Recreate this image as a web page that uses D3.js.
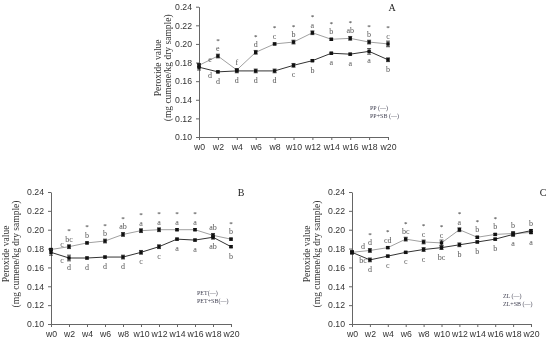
<!DOCTYPE html>
<html>
<head>
<meta charset="utf-8">
<script src="https://cdn.jsdelivr.net/npm/d3@7"></script>
<style>
  body { margin: 0; background: #fff; }
  svg { display: block; font-family: "Liberation Serif", "Times New Roman", serif; will-change: transform; }
  .tick text { fill: #333; }
  .domain, .tick line { stroke: #666; }
</style>
</head>
<body>
<script>
// weeks of storage and y ticks shared by every panel
var weeks = ['w0','w2','w4','w6','w8','w10','w12','w14','w16','w18','w20'];
var yTicks = [0.10, 0.12, 0.14, 0.16, 0.18, 0.20, 0.22, 0.24];

// panel A: PP
var aLight = [0.177, 0.187, 0.172, 0.191, 0.200, 0.202, 0.212, 0.205, 0.206, 0.202, 0.200];
var aDark  = [0.175, 0.170, 0.171, 0.171, 0.171, 0.177, 0.182, 0.190, 0.189, 0.192, 0.183];
var aLightErr = [0.002, 0.002, 0.001, 0.002, 0.001, 0.002, 0.002, 0.001, 0.002, 0.002, 0.003];
var aDarkErr  = [0.003, 0.001, 0.002, 0.002, 0.002, 0.002, 0.001, 0.001, 0.001, 0.003, 0.002];
var aTop = ['e','e','f','d','c','b','a','b','ab','b','c'];
var aBottom = ['d','d','d','d','d','c','b','a','a','a','b'];
var aStar = [0,1,0,1,1,1,1,1,1,1,1];
var aLegend = ['PP (\u2014)', 'PP+SB (\u2014)'];

// panel B: PET
var bLight = [0.179, 0.182, 0.186, 0.188, 0.195, 0.199, 0.200, 0.200, 0.200, 0.194, 0.190];
var bDark  = [0.176, 0.170, 0.170, 0.171, 0.171, 0.176, 0.182, 0.190, 0.189, 0.192, 0.182];
var bLightErr = [0.001, 0.002, 0.001, 0.002, 0.002, 0.002, 0.002, 0.001, 0.001, 0.002, 0.001];
var bDarkErr  = [0.003, 0.003, 0.001, 0.001, 0.002, 0.002, 0.002, 0.001, 0.001, 0.002, 0.001];
var bTop = ['c','bc','b','b','ab','a','a','a','a','ab','b'];
var bBottom = ['c','d','d','d','d','c','c','a','a','ab','b'];
var bStar = [0,1,1,1,1,1,1,1,1,0,1];
var bLegend = ['PET(\u2014)', 'PET+SB(\u2014)'];

// panel C: ZL
var cLight = [0.176, 0.178, 0.181, 0.190, 0.187, 0.186, 0.200, 0.192, 0.195, 0.196, 0.197];
var cDark  = [0.176, 0.168, 0.172, 0.176, 0.179, 0.181, 0.184, 0.187, 0.190, 0.195, 0.199];
var cLightErr = [0.001, 0.002, 0.001, 0.002, 0.002, 0.003, 0.002, 0.001, 0.001, 0.002, 0.001];
var cDarkErr  = [0.002, 0.002, 0.001, 0.001, 0.002, 0.002, 0.002, 0.001, 0.001, 0.002, 0.001];
var cTop = ['d','d','cd','bc','c','c','a','b','b','b','b'];
var cBottom = ['bc','d','c','c','c','bc','b','b','b','a','a'];
var cStar = [0,1,1,1,1,1,1,1,1,0,0];
var cLegend = ['ZL (\u2014)', 'ZL+SB (\u2014)'];

var svg = d3.select('body').append('svg')
    .attr('width', 550)
    .attr('height', 348);

var panels = [
    {name: 'A', nameX: 392, left: 199, right: 388, top: 6.7, bottom: 137,
     title: 158, legend: [370, 108],
     light: aLight, dark: aDark, lightErr: aLightErr, darkErr: aDarkErr,
     topL: aTop, bottomL: aBottom, star: aStar, leg: aLegend},
    {name: 'B', nameX: 241, left: 51, right: 231, top: 192, bottom: 324,
     title: 6, legend: [197, 293],
     light: bLight, dark: bDark, lightErr: bLightErr, darkErr: bDarkErr,
     topL: bTop, bottomL: bBottom, star: bStar, leg: bLegend},
    {name: 'C', nameX: 543, left: 352, right: 531, top: 192, bottom: 324,
     title: 307, legend: [503, 296],
     light: cLight, dark: cDark, lightErr: cLightErr, darkErr: cDarkErr,
     topL: cTop, bottomL: cBottom, star: cStar, leg: cLegend}
];

function draw_panel(p) {
    var g = svg.append('g');
    var x = d3.scalePoint().domain(weeks).range([p.left, p.right]);
    var y = d3.scaleLinear().domain([0.10, 0.24]).range([p.bottom, p.top]);

    g.append('g')
        .attr('transform', 'translate(0,' + p.bottom + ')')
        .call(d3.axisBottom(x).tickSize(3).tickSizeOuter(0).tickPadding(4));
    g.append('g')
        .attr('transform', 'translate(' + p.left + ',0)')
        .call(d3.axisLeft(y).tickValues(yTicks).tickFormat(d3.format('.2f'))
              .tickSize(3).tickSizeOuter(0).tickPadding(4));
    g.selectAll('.tick text').attr('font-size', 8.7);

    var midY = (p.top + p.bottom) / 2 - 4;
    g.append('text')
        .attr('transform', 'translate(' + (p.title + 3) + ',' + midY + ') rotate(-90)')
        .attr('text-anchor', 'middle')
        .attr('font-size', 9.5).attr('fill', '#333')
        .text('Peroxide value');
    g.append('text')
        .attr('transform', 'translate(' + (p.title + 13) + ',' + midY + ') rotate(-90)')
        .attr('text-anchor', 'middle')
        .attr('font-size', 9.5).attr('fill', '#333')
        .text('(mg cumene/kg dry sample)');

    var series = [
        {v: p.light, e: p.lightErr, color: '#a0a0a0'},
        {v: p.dark, e: p.darkErr, color: '#333'}
    ];
    var line = d3.line()
        .x(function(d, i) {return x(weeks[i]);})
        .y(function(d) {return y(d);});

    series.forEach(function(s) {
        g.append('path')
            .attr('d', line(s.v))
            .attr('fill', 'none')
            .attr('stroke', s.color)
            .attr('stroke-width', 1);
        var eb = g.append('g').attr('stroke', '#222').attr('stroke-width', 0.8);
        s.v.forEach(function(v, i) {
            var cx = x(weeks[i]);
            var y1 = y(v + s.e[i]), y2 = y(v - s.e[i]);
            eb.append('line').attr('x1', cx).attr('x2', cx).attr('y1', y1).attr('y2', y2);
            eb.append('line').attr('x1', cx - 2).attr('x2', cx + 2).attr('y1', y1).attr('y2', y1);
            eb.append('line').attr('x1', cx - 2).attr('x2', cx + 2).attr('y1', y2).attr('y2', y2);
        });
        g.selectAll(null)
            .data(s.v)
            .enter()
            .append('rect')
            .attr('x', function(d, i) {return x(weeks[i]) - 1.7;})
            .attr('y', function(d) {return y(d) - 1.7;})
            .attr('width', 3.4).attr('height', 3.4)
            .attr('fill', '#111');
    });

    // significance letters and asterisks
    weeks.forEach(function(w, i) {
        var hi = Math.max(p.light[i], p.dark[i]);
        var lo = Math.min(p.light[i], p.dark[i]);
        var cx = x(w);
        if (i === 0) {
            g.append('text').attr('x', cx + 11).attr('y', y(p.light[i]) - 3)
                .attr('text-anchor', 'middle').attr('font-size', 8).attr('fill', '#555')
                .text(p.topL[i]);
            g.append('text').attr('x', cx + 11).attr('y', y(p.dark[i]) + 11)
                .attr('text-anchor', 'middle').attr('font-size', 8).attr('fill', '#555')
                .text(p.bottomL[i]);
            return;
        }
        g.append('text').attr('x', cx).attr('y', y(hi) - 5)
            .attr('text-anchor', 'middle').attr('font-size', 8).attr('fill', '#555')
            .text(p.topL[i]);
        g.append('text').attr('x', cx).attr('y', y(lo) + 12)
            .attr('text-anchor', 'middle').attr('font-size', 8).attr('fill', '#555')
            .text(p.bottomL[i]);
        if (p.star[i]) {
            g.append('text').attr('x', cx).attr('y', y(hi) - 13.5)
                .attr('text-anchor', 'middle').attr('font-size', 7).attr('fill', '#222')
                .text('*');
        }
    });

    g.append('text')
        .attr('x', p.nameX).attr('y', p.top + 4)
        .attr('text-anchor', 'middle')
        .attr('font-size', 10).attr('fill', '#222')
        .text(p.name);

    g.selectAll(null)
        .data(p.leg)
        .enter()
        .append('text')
        .attr('x', p.legend[0])
        .attr('y', function(d, i) {return p.legend[1] + 2 + i * 8;})
        .attr('font-size', 6).attr('fill', '#445')
        .text(function(d) {return d;});
}

panels.forEach(draw_panel);
</script>
</body>
</html>
